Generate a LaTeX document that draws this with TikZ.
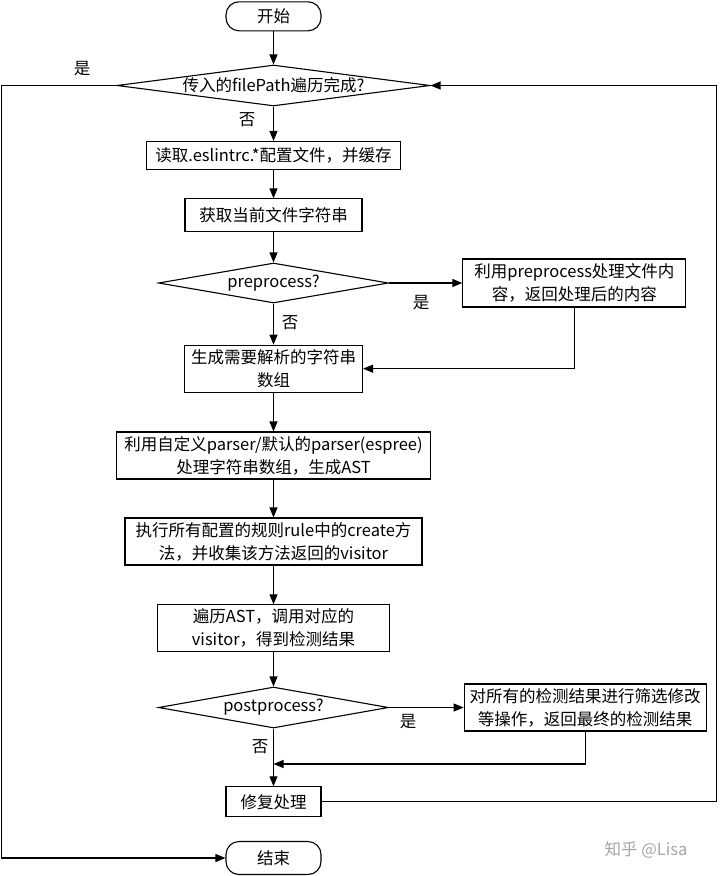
\documentclass[tikz,border=0pt]{standalone}
\usepackage{fontspec}
\setmainfont{Noto Sans CJK SC}
\usetikzlibrary{shapes.geometric,arrows.meta}
\begin{document}
\begin{tikzpicture}[x=1pt,y=-1pt,
  every node/.style={font=\fontsize{16.5}{23}\selectfont},
  box/.style={draw, line width=1.1pt, rectangle, inner sep=0pt, align=center},
  term/.style={draw, line width=1.1pt, rounded corners=13pt, inner sep=0pt, minimum width=95pt},
  dec/.style={draw, line width=1.1pt, diamond, inner sep=0pt},
  lbl/.style={inner sep=0pt},
  flow/.style={line width=1.1pt, -{Triangle[length=10pt,width=8pt]}}
]
\useasboundingbox[fill=white] (0,0) rectangle (720,876);

\node[term, minimum height=29pt] (start) at (273.5,16.3) {开始};
\node[dec, minimum width=313pt, minimum height=41pt] (d1) at (273.5,85.5) {};
\node[lbl] (d1t) at (d1) {传入的filePath遍历完成?};
\node[box, minimum width=254pt, minimum height=28pt] (read) at (273.5,155.5) {读取.eslintrc.*配置文件，并缓存};
\node[box, minimum width=177pt, minimum height=33pt] (get) at (273.5,215.4) {获取当前文件字符串};
\node[dec, minimum width=230pt, minimum height=40pt] (d2) at (273.5,283) {};
\node[lbl] (d2t) at (d2) {preprocess?};
\node[box, minimum width=223pt, minimum height=48pt] (pre) at (574.4,283) {利用preprocess处理文件内\\容，返回处理后的内容};
\node[box, minimum width=178pt, minimum height=47pt] (gen) at (273.5,368.7) {生成需要解析的字符串\\数组};
\node[box, minimum width=314pt, minimum height=47pt] (parse) at (273.5,455.5) {利用自定义parser/默认的parser(espree)\\处理字符串数组，生成AST};
\node[box, minimum width=297pt, minimum height=47pt] (exec) at (273.5,541.5) {执行所有配置的规则rule中的create方\\法，并收集该方法返回的visitor};
\node[box, minimum width=232pt, minimum height=47pt] (walk) at (273.5,628.3) {遍历AST，调用对应的\\visitor，得到检测结果};
\node[dec, minimum width=230pt, minimum height=41pt] (d3) at (273.5,707.5) {};
\node[lbl] (d3t) at (d3) {postprocess?};
\node[box, minimum width=242pt, minimum height=47pt] (post) at (585.2,707.5) {对所有的检测结果进行筛选修改\\等操作，返回最终的检测结果};
\node[box, minimum width=95pt, minimum height=30pt] (fix) at (273.5,801.8) {修复处理};
\node[term, minimum height=33pt] (end) at (273.5,858) {结束};

\node[lbl] (y1) at (82,69) {是};
\node[lbl] (n1) at (247,120) {否};
\node[lbl] (y2) at (421,302.7) {是};
\node[lbl] (n2) at (290,322.7) {否};
\node[lbl] (y3) at (408,721.7) {是};
\node[lbl] (n3) at (260,747) {否};

\node[lbl, text=black!35] (wm) at (646,850) {知乎 @Lisa};

\coordinate (lb) at (1.7,858);
\coordinate (rt) at (716.7,85.5);
\coordinate (m) at (273.5,764);

\draw[flow] (start) -- (d1);
\draw[flow] (d1.west) -| (lb) -- (end.west);
\draw[flow] (d1.south) -- (read.north);
\draw[flow] (read) -- (get);
\draw[flow] (get) -- (d2);
\draw[flow] (d2.east) -- (pre.west);
\draw[flow] (d2.south) -- (gen.north);
\draw[flow] (pre.south) |- (gen.east);
\draw[flow] (gen) -- (parse);
\draw[flow] (parse) -- (exec);
\draw[flow] (exec) -- (walk);
\draw[flow] (walk) -- (d3.north);
\draw[flow] (d3.east) -- (post.west);
\draw[flow] (post.south) |- (m);
\draw[flow] (d3.south) -- (fix.north);
\draw[flow] (fix.east) -| (rt) -- (d1.east);
\end{tikzpicture}
\end{document}
